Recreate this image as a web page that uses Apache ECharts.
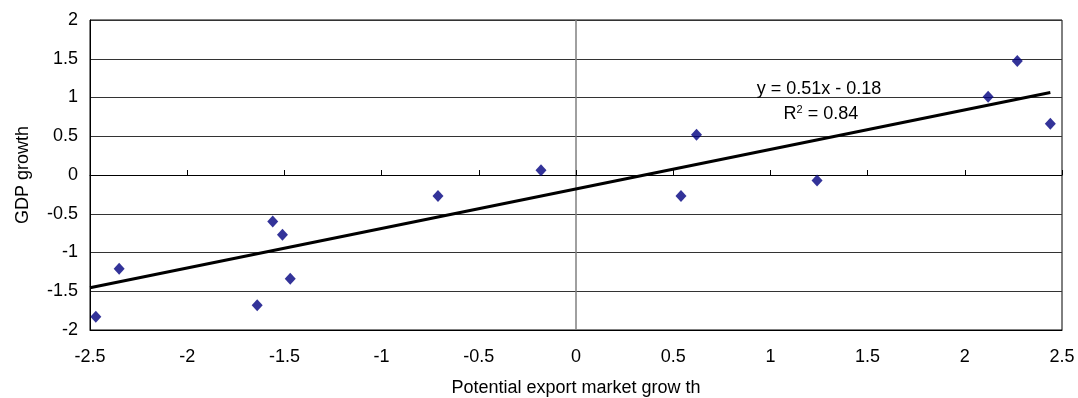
<!DOCTYPE html>
<html>
<head>
<meta charset="utf-8">
<script src="https://cdn.jsdelivr.net/npm/echarts@6/dist/echarts.min.js"></script>
<style>
  html, body { margin: 0; padding: 0; background: #fff; }
  #chart { width: 1078px; height: 398px; }
</style>
</head>
<body>
<div id="chart"></div>
<script>
// Potential export market growth (x) against GDP growth (y)
const exportGrowth = [-2.47, -2.35, -1.64, -1.56, -1.51, -1.47, -0.71, -0.18, 0.54, 0.62, 1.24, 2.12, 2.27, 2.44];
const gdpGrowth    = [-1.83, -1.21, -1.68, -0.60, -0.77, -1.34, -0.27, 0.06, -0.27, 0.52, -0.07, 1.01, 1.47, 0.66];

// Linear trend as reported on the chart
const trendSlope = 0.51;
const trendIntercept = -0.18;
const trendR2 = 0.84;

const X_MIN = -2.5, X_MAX = 2.5, X_STEP = 0.5;
const Y_MIN = -2, Y_MAX = 2, Y_STEP = 0.5;

const FONT = '"Liberation Sans", Arial, sans-serif';

const points = exportGrowth.map((x, i) => [x, gdpGrowth[i]]);
const trendX0 = X_MIN;
const trendX1 = Math.max.apply(null, exportGrowth);
const trendLine = [
  [trendX0, trendSlope * trendX0 + trendIntercept],
  [trendX1, trendSlope * trendX1 + trendIntercept]
];

const chart = echarts.init(document.getElementById('chart'), null, { renderer: 'canvas' });

const option = {
  animation: false,
  backgroundColor: '#fff',
  textStyle: { fontFamily: FONT, color: '#000' },
  grid: {
    left: 90, right: 16, top: 20, bottom: 68,
    outerBoundsMode: 'none',
    containLabel: false,
    show: true, borderColor: '#000', borderWidth: 1, backgroundColor: 'transparent'
  },
  xAxis: [
    {
      type: 'value', min: X_MIN, max: X_MAX, interval: X_STEP,
      name: 'Potential export market grow th',
      nameLocation: 'middle', nameGap: 49,
      nameTextStyle: { fontFamily: FONT, fontSize: 18, color: '#000' },
      axisLine: { onZero: false, show: true, lineStyle: { color: '#000', width: 1 } },
      axisTick: { show: false },
      axisLabel: { margin: 18, fontFamily: FONT, fontSize: 18, color: '#000' },
      splitLine: { show: false }
    },
    {
      // crossing axis drawn through y = 0, with its tick marks
      type: 'value', min: X_MIN, max: X_MAX, interval: X_STEP,
      axisLine: { onZero: true, onZeroAxisIndex: 0, show: true, lineStyle: { color: '#000', width: 1 } },
      axisTick: { show: true, inside: false, length: 5, lineStyle: { color: '#000' } },
      axisLabel: { show: false },
      splitLine: { show: false }
    }
  ],
  yAxis: [
    {
      type: 'value', min: Y_MIN, max: Y_MAX, interval: Y_STEP,
      name: 'GDP growth',
      nameLocation: 'middle', nameGap: 58, nameRotate: 90,
      nameTextStyle: { fontFamily: FONT, fontSize: 18, color: '#000' },
      axisLine: { onZero: false, show: true, lineStyle: { color: '#000', width: 1 } },
      axisTick: { show: false },
      axisLabel: { margin: 12, fontFamily: FONT, fontSize: 18, color: '#000' },
      splitLine: { show: true, lineStyle: { color: '#333', width: 1 } }
    },
    {
      // crossing axis drawn through x = 0
      type: 'value', min: Y_MIN, max: Y_MAX, interval: Y_STEP,
      axisLine: { onZero: true, onZeroAxisIndex: 0, show: true, lineStyle: { color: '#808080', width: 1.5 } },
      axisTick: { show: false },
      axisLabel: { show: false },
      splitLine: { show: false }
    }
  ],
  series: [
    {
      type: 'line',
      data: trendLine,
      showSymbol: false,
      symbol: 'none',
      lineStyle: { color: '#000', width: 3 },
      z: 3,
      silent: true
    },
    {
      type: 'scatter',
      data: points,
      symbol: 'diamond',
      symbolSize: [11, 12],
      itemStyle: { color: '#000080' },
      z: 4
    }
  ]
};

chart.setOption(option);

// Trend equation and R² placed on the chart's data coordinates
const eqPos = chart.convertToPixel({ gridIndex: 0 }, [1.25, 1.11]);
const r2Pos = chart.convertToPixel({ gridIndex: 0 }, [1.26, 0.79]);
chart.setOption({
  graphic: [
    {
      type: 'text', x: eqPos[0], y: eqPos[1], z: 10,
      style: {
        text: 'y = ' + trendSlope.toFixed(2) + 'x - ' + Math.abs(trendIntercept).toFixed(2),
        font: '18px ' + FONT, fill: '#000', align: 'center', verticalAlign: 'middle'
      }
    },
    {
      type: 'text', x: r2Pos[0], y: r2Pos[1], z: 10,
      style: {
        text: 'R{sup|2} = ' + trendR2.toFixed(2),
        font: '18px ' + FONT, fill: '#000', align: 'center', verticalAlign: 'middle',
        rich: { sup: { fontSize: 11, fontFamily: FONT, verticalAlign: 'top', padding: [0, 0, 8, 0] } }
      }
    }
  ]
});
</script>
</body>
</html>
